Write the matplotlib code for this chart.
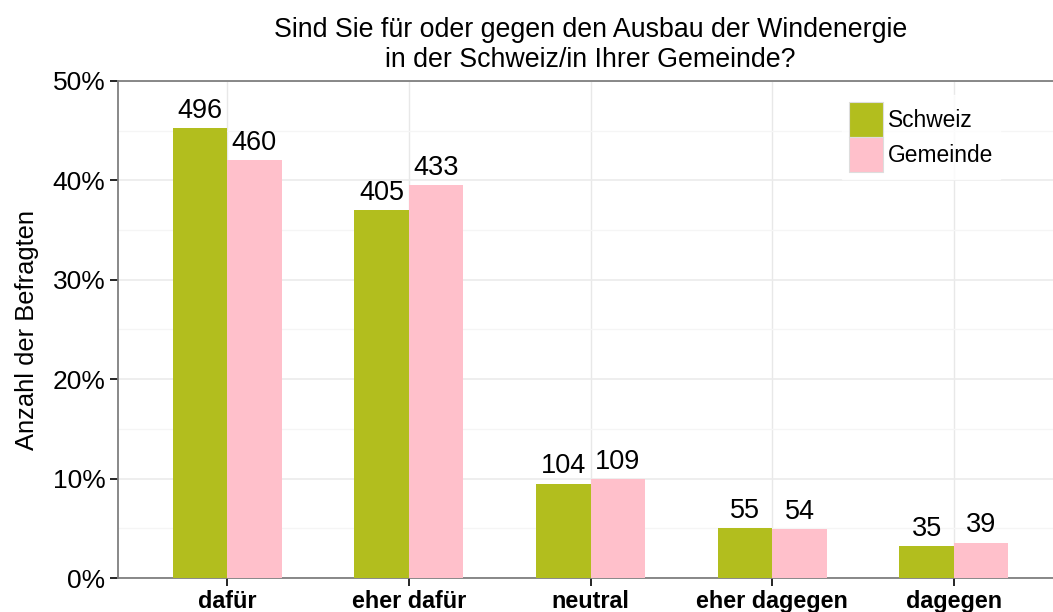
import matplotlib
matplotlib.use("Agg")
import matplotlib.pyplot as plt
import numpy as np
from matplotlib.patches import Patch
from matplotlib.ticker import MultipleLocator, PercentFormatter

plt.rcParams["font.family"] = ["Liberation Sans", "DejaVu Sans"]

categories = ["dafür", "eher dafür", "neutral", "eher dagegen", "dagegen"]
schweiz = [496, 405, 104, 55, 35]
gemeinde = [460, 433, 109, 54, 39]
series_names = ["Schweiz", "Gemeinde"]

GREEN = "#B2BE1E"
PINK = "#FFC0CB"

sch_share = np.array(schweiz) / sum(schweiz)
gem_share = np.array(gemeinde) / sum(gemeinde)

fig = plt.figure(figsize=(10.53, 6.12), dpi=100)
ax = fig.add_axes([118 / 1053, 34 / 612, 945 / 1053, 497 / 612])

x = np.arange(len(categories))
w = 0.3
b1 = ax.bar(x - w / 2, sch_share, width=w, color=GREEN, zorder=3)
b2 = ax.bar(x + w / 2, gem_share, width=w, color=PINK, zorder=3)
ax.bar_label(b1, labels=[str(v) for v in schweiz], padding=3, fontsize=19.5)
ax.bar_label(b2, labels=[str(v) for v in gemeinde], padding=3, fontsize=19.5)

ax.set_xlim(-0.6, len(categories) - 0.4)
ax.set_ylim(0, 0.5)
ax.set_xticks(x)
ax.set_xticklabels(categories, fontsize=16.8, fontweight="bold")
ax.yaxis.set_major_locator(MultipleLocator(0.1))
ax.yaxis.set_minor_locator(MultipleLocator(0.05))
ax.yaxis.set_major_formatter(PercentFormatter(1.0, decimals=0))
ax.tick_params(axis="y", labelsize=19, length=6, width=1.2, color="black", pad=3)
ax.tick_params(axis="x", length=5.8, width=1.2, color="black", pad=2.5)
ax.tick_params(axis="y", which="minor", length=0)

ax.grid(axis="y", which="major", color="#EBEBEB", linewidth=1.2, zorder=0)
ax.grid(axis="y", which="minor", color="#F5F5F5", linewidth=1.0, zorder=0)
ax.grid(axis="x", which="major", color="#E8E8E8", linewidth=1.0, zorder=0)
ax.set_axisbelow(True)

for side in ["left", "bottom", "top", "right"]:
    ax.spines[side].set_color("#7F7F7F")
    ax.spines[side].set_linewidth(1.3)

ax.set_ylabel("Anzahl der Befragten", fontsize=18.4, labelpad=10)
ax.set_title("Sind Sie für oder gegen den Ausbau der Windenergie\nin der Schweiz/in Ihrer Gemeinde?",
             fontsize=19.3, pad=10)

handles = [Patch(facecolor=GREEN, edgecolor="#DDDDDD", linewidth=0.8),
           Patch(facecolor=PINK, edgecolor="#DDDDDD", linewidth=0.8)]
leg = fig.legend(handles, series_names, loc="upper left",
                 bbox_to_anchor=(842 / 1053, 1 - 95 / 612), fontsize=16.4,
                 frameon=True, fancybox=False, handlelength=1.5, handleheight=2.0,
                 handletextpad=0.2, labelspacing=0.0, borderpad=0.3, borderaxespad=0)
leg.get_frame().set_edgecolor("white")
leg.get_frame().set_facecolor("white")

fig.savefig("out.png", dpi=100)
